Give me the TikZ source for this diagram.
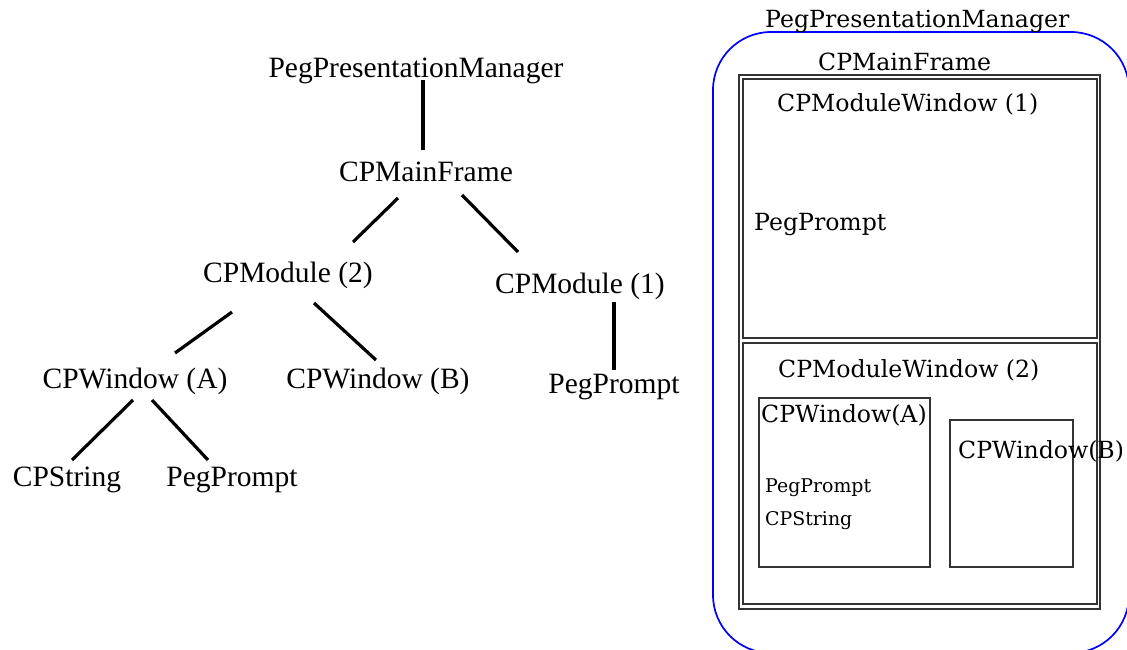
\documentclass[tikz,border=0pt]{standalone}
\usepackage{fontspec}
\setmainfont{Liberation Serif}
\newfontfamily\rfont{DejaVu Serif}
\begin{document}
\begin{tikzpicture}[x=1pt,y=-1pt,
  lt/.style={font=\fontsize{29.5}{32}\selectfont, inner sep=0pt, anchor=base},
  rt/.style={font=\rfont\fontsize{23.6}{26}\selectfont, inner sep=0pt, anchor=base west},
  rs/.style={font=\rfont\fontsize{18.9}{21}\selectfont, inner sep=0pt, anchor=base west},
  edge/.style={line width=3.2pt, black},
  frame/.style={line width=1.7pt, draw=black!80},
  blueframe/.style={line width=1.7pt, draw=blue, rounded corners=58pt}]
\useasboundingbox (0,0) rectangle (1127,650);
% ---------- left tree ----------
\node[lt] (ppm) at (416,78) {PegPresentationManager};
\node[lt] (mf)  at (426,181) {CPMainFrame};
\node[lt] (m2)  at (288,282) {CPModule (2)};
\node[lt] (m1)  at (580,293) {CPModule (1)};
\node[lt] (wa)  at (135,388) {CPWindow (A)};
\node[lt] (wb)  at (378,388) {CPWindow (B)};
\node[lt] (pp1) at (614,393) {PegPrompt};
\node[lt] (cs)  at (67,486) {CPString};
\node[lt] (pp2) at (232,486) {PegPrompt};
\draw[edge] ([shift={(7,2)}]ppm.base) -- ([shift={(-3,-31)}]mf.base);
\draw[edge] ([shift={(-28,17)}]mf.base) -- ([shift={(65,-40)}]m2.base);
\draw[edge] ([shift={(36,14)}]mf.base) -- ([shift={(-62,-41)}]m1.base);
\draw[edge] ([shift={(-56,30)}]m2.base) -- ([shift={(40,-35)}]wa.base);
\draw[edge] ([shift={(26,21)}]m2.base) -- ([shift={(-2,-28)}]wb.base);
\draw[edge] ([shift={(34,9)}]m1.base) -- ([shift={(0,-23)}]pp1.base);
\draw[edge] ([shift={(-2,12)}]wa.base) -- ([shift={(5,-26)}]cs.base);
\draw[edge] ([shift={(17,12)}]wa.base) -- ([shift={(-24,-26)}]pp2.base);
% ---------- right panel ----------
\begin{scope}
\clip (0,0) rectangle (1127,650);
\draw[blueframe] (713,32) rectangle (1129,653);
\end{scope}
\node[rt] (tppm) at (765,28) {PegPresentationManager};
\draw[frame] (739,75) rectangle (1100,609);
\node[rt] (tmf) at (818,71) {CPMainFrame};
\draw[frame] (743,79) rectangle (1097,338);
\node[rt] (tmw1) at (777,112) {CPModuleWindow (1)};
\node[rt] (tpp) at (754,230) {PegPrompt};
\draw[frame] (743,343) rectangle (1097,604);
\node[rt] (tmw2) at (778,377) {CPModuleWindow (2)};
\draw[frame, line width=1.5pt] (759,398) rectangle (930,567);
\node[rt] (twa) at (761,422) {CPWindow(A)};
\node[rs] (tpps) at (765,492) {PegPrompt};
\node[rs] (tcs) at (765,525) {CPString};
\draw[frame, line width=1.5pt] (950,420) rectangle (1073,567);
\node[rt] (twb) at (958,458) {CPWindow(B)};
\end{tikzpicture}
\end{document}
